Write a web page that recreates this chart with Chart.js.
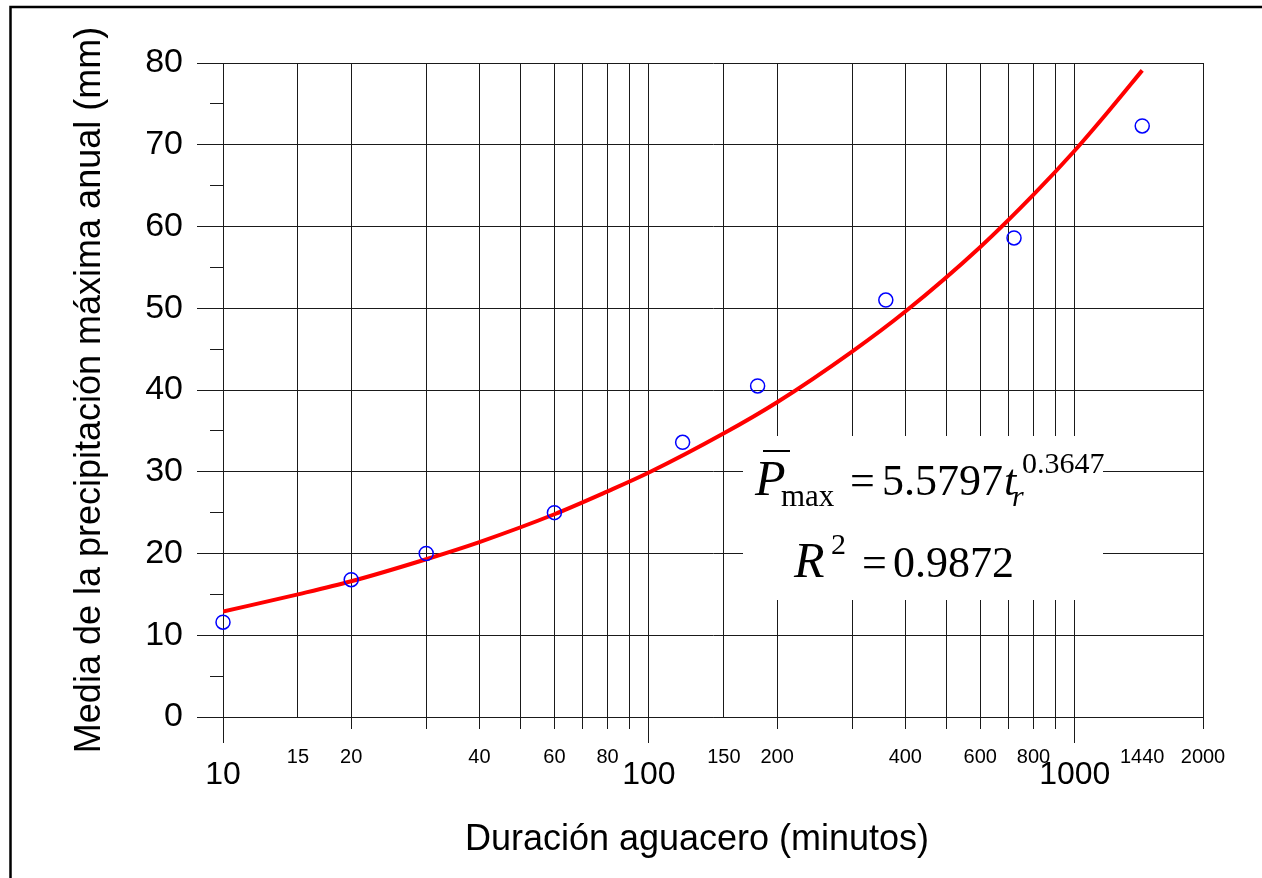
<!DOCTYPE html>
<html>
<head>
<meta charset="utf-8">
<script src="https://cdn.jsdelivr.net/npm/chart.js@4.4.1/dist/chart.umd.min.js"></script>
<style>
  html, body { margin: 0; padding: 0; background: #fff; }
  #wrap { width: 1262px; height: 878px; }
</style>
</head>
<body>
<div id="wrap"><canvas id="chart1" width="1262" height="878"></canvas></div>
<script>
// observed means (duration in minutes, mm)
var durations = [10, 20, 30, 60, 120, 180, 360, 720, 1440];
var meanPrecip = [11.6, 16.8, 20.0, 25.0, 33.6, 40.5, 51.0, 58.6, 72.3];

// fitted curve
var fitDurations = [10, 15, 20, 30, 40, 60, 80, 100, 150, 200, 300, 400, 600, 800, 1000, 1200, 1440];
var fitPrecip = [12.9, 15.0, 16.6, 19.3, 21.4, 24.8, 27.6, 29.9, 34.7, 38.5, 44.7, 49.6, 57.5, 63.9, 69.3, 74.1, 79.1];

// axis ticks
var xGridValues = [10, 15, 20, 30, 40, 50, 60, 70, 80, 90, 100, 150, 200, 300, 400, 500, 600, 700, 800, 900, 1000, 2000];
var xLabelValues = [10, 15, 20, 40, 60, 80, 100, 150, 200, 400, 600, 800, 1000, 1440, 2000];
var xDecades = [10, 100, 1000];
var xNoTick = [15, 150];
var yMinorTicks = [5, 15, 25, 35, 45, 55, 65, 75];

var xTickValues = xGridValues.concat(xLabelValues)
  .filter(function(v, i, a) { return a.indexOf(v) === i; })
  .sort(function(a, b) { return a - b; });

const gridColor = '#1a1a1a';
const serif = "'Liberation Serif', 'Times New Roman', serif";
Chart.defaults.font.family = "'Liberation Sans', Arial, sans-serif";

function tickValue(ctx) {
  return ctx.tick ? ctx.tick.value : null;
}

function txt(c, s, x, y, font) {
  c.font = font;
  c.fillText(s, x, y);
}

const decorations = {
  id: 'decorations',
  beforeDraw(chart) {
    const c = chart.ctx;
    c.save();
    c.strokeStyle = '#000';
    c.lineWidth = 2.5;
    c.beginPath();
    c.moveTo(10.5, 878);
    c.lineTo(10.5, 7);
    c.lineTo(1262, 7);
    c.stroke();
    c.restore();
  },
  beforeDatasetsDraw(chart) {
    const c = chart.ctx;
    const xs = chart.scales.x, ys = chart.scales.y;
    const area = chart.chartArea;
    c.save();
    // short ticks
    c.strokeStyle = gridColor;
    c.lineWidth = 1;
    c.beginPath();
    yMinorTicks.forEach(function(v) {
      const py = Math.round(ys.getPixelForValue(v) - 0.5) + 0.5;
      c.moveTo(area.left - 13, py);
      c.lineTo(area.left, py);
    });
    xGridValues.forEach(function(v) {
      if (xDecades.includes(v) || xNoTick.includes(v)) return;
      const px = Math.round(xs.getPixelForValue(v) - 0.5) + 0.5;
      c.moveTo(px, area.bottom);
      c.lineTo(px, area.bottom + 12);
    });
    c.stroke();

    // equation box
    c.fillStyle = '#fff';
    c.fillRect(743, 436, 360, 164);
    c.fillStyle = '#000';
    c.textAlign = 'left';
    c.textBaseline = 'alphabetic';
    txt(c, 'P', 755, 495, 'italic 50px ' + serif);
    c.fillRect(763, 450, 27, 2);
    txt(c, 'max', 781, 506, '31px ' + serif);
    txt(c, '=', 850, 495, '44px ' + serif);
    txt(c, '5.5797', 882, 495, '44px ' + serif);
    txt(c, 't', 1004, 495, 'italic 44px ' + serif);
    txt(c, 'r', 1012, 506, 'italic 30px ' + serif);
    txt(c, '0.3647', 1022, 473, '30px ' + serif);

    txt(c, 'R', 794, 577, 'italic 50px ' + serif);
    txt(c, '2', 831, 554, '30px ' + serif);
    txt(c, '=', 862, 577, '44px ' + serif);
    txt(c, '0.9872', 893, 577, '44px ' + serif);
    c.restore();
  },
  afterDraw(chart) {
    const c = chart.ctx;
    c.save();
    c.fillStyle = '#000';
    c.font = "36px 'Liberation Sans', Arial, sans-serif";
    c.textAlign = 'center';
    c.textBaseline = 'middle';
    c.fillText('Duración aguacero (minutos)', 697, 840);
    c.restore();
  }
};

const chartContext = document.getElementById('chart1').getContext('2d');
new Chart(chartContext, {
  type: 'scatter',
  data: {
    datasets: [{
      label: 'Ajuste potencial',
      data: fitDurations.map(function(t, i) { return {x: t, y: fitPrecip[i]}; }),
      showLine: true,
      borderColor: '#ff0000',
      borderWidth: 4,
      pointRadius: 0,
      cubicInterpolationMode: 'monotone',
      fill: false,
      order: 1
    }, {
      label: 'Media observada',
      data: durations.map(function(t, i) { return {x: t, y: meanPrecip[i]}; }),
      pointStyle: 'circle',
      pointRadius: 7,
      borderColor: '#0000ff',
      borderWidth: 1.5,
      backgroundColor: 'rgba(0,0,0,0)',
      clip: false,
      order: 0
    }]
  },
  options: {
    responsive: false,
    animation: false,
    layout: { padding: { left: 0, top: 63, right: 59, bottom: 0 } },
    plugins: {
      legend: { display: false },
      tooltip: { enabled: false }
    },
    scales: {
      x: {
        type: 'logarithmic',
        min: 10,
        max: 2000,
        afterFit: function(scale) { scale.height = 161; },
        afterBuildTicks: function(scale) {
          scale.ticks = xTickValues.map(function(v) { return {value: v}; });
        },
        ticks: {
          autoSkip: false,
          maxRotation: 0,
          padding: 3,
          color: '#000',
          callback: function(v) { return xLabelValues.includes(v) ? String(v) : ''; },
          font: function(ctx) {
            return xDecades.includes(tickValue(ctx))
              ? { size: 32, lineHeight: 1.8 }
              : { size: 20, lineHeight: 1.15 };
          }
        },
        grid: {
          lineWidth: 1,
          tickLength: 26,
          color: function(ctx) {
            return xGridValues.includes(tickValue(ctx)) ? gridColor : 'rgba(0,0,0,0)';
          },
          tickColor: function(ctx) {
            return xDecades.includes(tickValue(ctx)) ? gridColor : 'rgba(0,0,0,0)';
          }
        },
        border: { color: gridColor }
      },
      y: {
        min: 0,
        max: 80,
        afterFit: function(scale) { scale.width = 223; },
        ticks: {
          stepSize: 10,
          padding: 14,
          color: '#000',
          font: { size: 34 }
        },
        grid: {
          color: gridColor,
          lineWidth: 1,
          tickLength: 26,
          tickColor: gridColor
        },
        border: { color: gridColor },
        title: {
          display: true,
          text: 'Media de la precipitación máxima anual (mm)',
          color: '#000',
          font: { size: 36 },
          padding: { top: 68, bottom: 0 }
        }
      }
    }
  },
  plugins: [decorations]
});
</script>
</body>
</html>
